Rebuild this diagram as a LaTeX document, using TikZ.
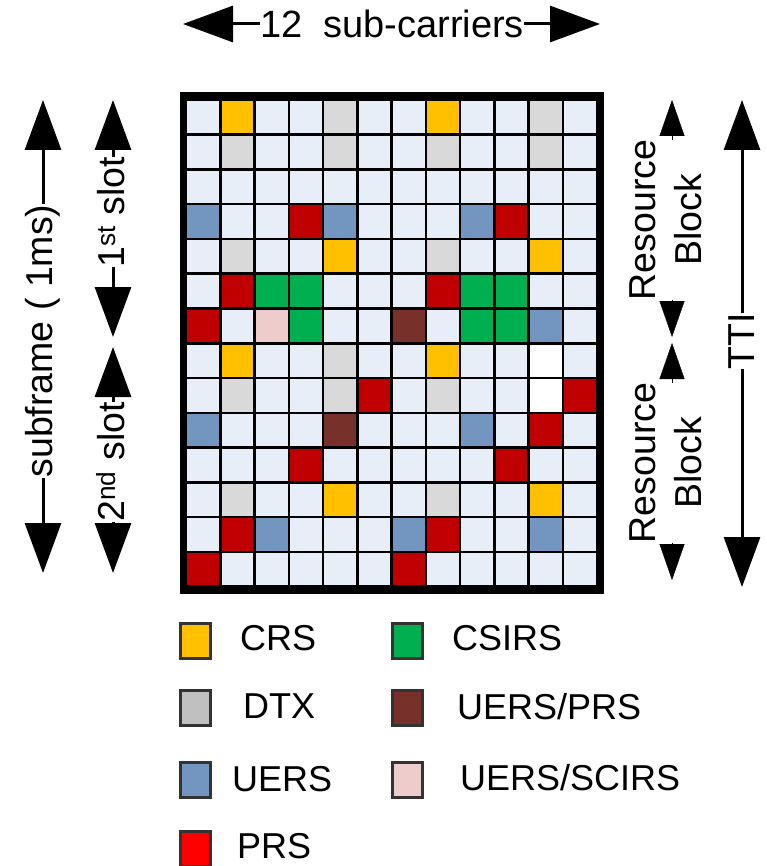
\documentclass[tikz,border=0pt]{standalone}
\usepackage{fontspec}
\setmainfont{Liberation Sans}
\usetikzlibrary{arrows.meta}
\definecolor{cL}{HTML}{E8EEF8}
\definecolor{cY}{HTML}{FFC000}
\definecolor{cG}{HTML}{D9D9D9}
\definecolor{cB}{HTML}{7396C1}
\definecolor{cR}{HTML}{C00000}
\definecolor{cN}{HTML}{00B050}
\definecolor{cM}{HTML}{78302A}
\definecolor{cP}{HTML}{EECCCB}
\definecolor{cW}{HTML}{FFFFFF}
\definecolor{lgG}{HTML}{C0C0C0}
\definecolor{lgR}{HTML}{FF0000}
\begin{document}
\begin{tikzpicture}[x=1pt,y=-1pt,
  cell/.style={draw=black, line width=2.5pt, minimum width=34.25pt, minimum height=34.75pt, inner sep=0pt, outer sep=0pt},
  lab/.style={font=\fontsize{37.5}{46}\selectfont, inner sep=0pt, align=center},
  toplab/.style={font=\fontsize{38}{46}\selectfont, inner sep=0pt},
  leglab/.style={font=\fontsize{36}{44}\selectfont, inner sep=0pt, anchor=base west},
  legsq/.style={draw=black!80, line width=3pt, minimum width=30pt, minimum height=35pt, inner sep=0pt},
  bigarr/.style={line width=3pt, -{Triangle[length=50pt,width=36pt]}},
  smallarr/.style={line width=0.4pt, -{Triangle[length=36pt,width=25pt]}}
]
\useasboundingbox (0,0) rectangle (767,866);
% grid cells
\foreach \row [count=\r] in {
  {L,Y,L,L,G,L,L,Y,L,L,G,L},
  {L,G,L,L,G,L,L,G,L,L,G,L},
  {L,L,L,L,L,L,L,L,L,L,L,L},
  {B,L,L,R,B,L,L,L,B,R,L,L},
  {L,G,L,L,Y,L,L,G,L,L,Y,L},
  {L,R,N,N,L,L,L,R,N,N,L,L},
  {R,L,P,N,L,L,M,L,N,N,B,L},
  {L,Y,L,L,G,L,L,Y,L,L,W,L},
  {L,G,L,L,G,R,L,G,L,L,W,R},
  {B,L,L,L,M,L,L,L,B,L,R,L},
  {L,L,L,R,L,L,L,L,L,R,L,L},
  {L,G,L,L,Y,L,L,G,L,L,Y,L},
  {L,R,B,L,L,L,B,R,L,L,B,L},
  {R,L,L,L,L,L,R,L,L,L,L,L}}{
  \foreach \c [count=\k] in \row {
    \node[cell, fill=c\c] (c-\r-\k) at ({186+(\k-0.5)*34.25},{100+(\r-0.5)*34.75}) {};
  }
}
% frame
\draw[line width=7pt] (183,96) rectangle (600.5,590);

% top label
\node[toplab] (sc) at (392,24) {12\ \ sub-carriers};
\coordinate (scL) at (183,24);
\coordinate (scR) at (600,24);
\draw[bigarr] (sc) -- (scL);
\draw[bigarr] (sc) -- (scR);

% subframe
\node[lab, rotate=90] (sf) at (43,341) {subframe ( 1ms)};
\coordinate (sfT) at (43,100);
\coordinate (sfB) at (43,573);
\draw[bigarr] (sf) -- (sfT);
\draw[bigarr] (sf) -- (sfB);

% slots
\node[lab, rotate=90] (s1) at (111,212) {1\textsuperscript{st} slot};
\coordinate (s1T) at (113,100);
\coordinate (s1B) at (113,337);
\draw[bigarr] (s1T |- s1.east) -- (s1T);
\draw[bigarr] (s1B |- s1.west) -- (s1B);

\node[lab, rotate=90] (s2) at (111,462) {2\textsuperscript{nd} slot};
\coordinate (s2T) at (113,347);
\coordinate (s2B) at (113,573);
\draw[bigarr] (s2T |- s2.east) -- (s2T);
\draw[bigarr] (s2B |- s2.west) -- (s2B);

% resource blocks
\node[lab, rotate=90] (rb1) at (666,220) {Resource\\Block};
\coordinate (rb1T) at (672,100);
\coordinate (rb1B) at (672,337);
\draw[smallarr] (rb1T |- rb1.east) -- (rb1T);
\draw[smallarr] (rb1B |- rb1.west) -- (rb1B);

\node[lab, rotate=90] (rb2) at (666,463) {Resource\\Block};
\coordinate (rb2T) at (672,343);
\coordinate (rb2B) at (672,580);
\draw[smallarr] (rb2T |- rb2.east) -- (rb2T);
\draw[smallarr] (rb2B |- rb2.west) -- (rb2B);

% TTI
\node[lab, rotate=90] (tti) at (742,341) {TTI};
\coordinate (ttiT) at (742,100);
\coordinate (ttiB) at (742,587);
\draw[bigarr] (tti) -- (ttiT);
\draw[bigarr] (tti) -- (ttiB);

% legend
\node[legsq, fill=cY] (lCRS) at (195,641) {};
\node[leglab] (tCRS) at (240,650) {CRS};
\node[legsq, fill=lgG] (lDTX) at (195,708) {};
\node[leglab] (tDTX) at (243,718) {DTX};
\node[legsq, fill=cB] (lUERS) at (195,780) {};
\node[leglab] (tUERS) at (232,791) {UERS};
\node[legsq, fill=lgR] (lPRS) at (195,849) {};
\node[leglab] (tPRS) at (237,858) {PRS};
\node[legsq, fill=cN] (lCSI) at (407,641) {};
\node[leglab] (tCSI) at (452,650) {CSIRS};
\node[legsq, fill=cM] (lUP) at (407,708) {};
\node[leglab] (tUP) at (457,719) {UERS/PRS};
\node[legsq, fill=cP] (lUS) at (407,780) {};
\node[leglab] (tUS) at (460,790) {UERS/SCIRS};
\end{tikzpicture}
\end{document}
